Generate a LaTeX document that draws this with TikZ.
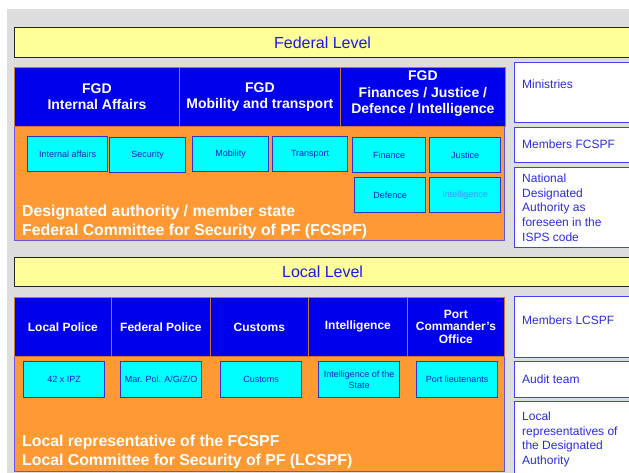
\documentclass[tikz,border=0pt]{standalone}
\usepackage{fontspec}
\setmainfont{Liberation Sans}
\usetikzlibrary{positioning}

\definecolor{bggray}{HTML}{DDDDDD}
\definecolor{lvlyellow}{HTML}{FFFF99}
\definecolor{titleblue}{HTML}{1A1AE6}
\definecolor{fgdblue}{HTML}{0000EE}
\definecolor{fgdedge}{HTML}{CC7733}
\definecolor{areaorange}{HTML}{FF9933}
\definecolor{areaedge}{HTML}{6655DD}
\definecolor{unitcyan}{HTML}{00FFFF}
\definecolor{unitedge}{HTML}{3333CC}
\definecolor{unitfg}{HTML}{1A1ACC}
\definecolor{intellight}{HTML}{3399FF}
\definecolor{noteedge}{HTML}{4040FF}
\definecolor{notefg}{HTML}{2B2BE0}

\begin{document}
\begin{tikzpicture}[x=1pt,y=-1pt,
every node/.style={inner sep=0pt,anchor=north west},
levelbar/.style={draw=black!85,line width=1.2pt,fill=lvlyellow,text=titleblue,
  font=\fontsize{16}{19}\selectfont,minimum width=616pt},
fgd/.style={draw=fgdedge,line width=0.8pt,fill=fgdblue,text=white,
  font=\bfseries\fontsize{14}{16.5}\selectfont,align=center,minimum height=59pt},
agency/.style={fgd,font=\bfseries\fontsize{12}{12.5}\selectfont},
area/.style={draw=areaedge,line width=1pt,fill=areaorange,minimum width=490pt},
areatext/.style={text=white,font=\bfseries\fontsize{15.8}{19}\selectfont,align=left},
unit/.style={draw=unitedge,line width=1.2pt,fill=unitcyan,text=unitfg,
  font=\fontsize{9}{11}\selectfont,align=center,minimum height=35pt},
note/.style={draw=noteedge,line width=1.2pt,fill=white,minimum width=130pt},
notetext/.style={text=notefg,font=\fontsize{12}{14.7}\selectfont,align=left}]

\useasboundingbox (0,0) rectangle (629,472);
\fill[bggray] (7,9) rectangle (640,480);

% federal level
\node[levelbar,minimum height=30pt] (fedlvl) at (14,27) {Federal Level};

\node[area,minimum height=114pt] (fcspf) at (14,126) {};
\node[fgd,minimum width=165pt] (fgdint) at (14,67) {FGD\\Internal Affairs};
\node[fgd,minimum width=161pt] (fgdmob) at (179,67) {FGD\\Mobility and transport};
\node[fgd,minimum width=165pt,text depth=9pt] (fgdfin) at (340,67) {FGD\\Finances / Justice /\\Defence / Intelligence};

\node[unit,minimum width=80pt] (intaff) at (27,136) {Internal affairs};
\node[unit,minimum width=76pt] (secu) at (109,137) {Security};
\node[unit,minimum width=76pt] (mobi) at (192,136) {Mobility};
\node[unit,minimum width=75pt] (transp) at (272,136) {Transport};
\node[unit,minimum width=73pt] (finance) at (352,137) {Finance};
\node[unit,minimum width=71pt] (justice) at (429,137) {Justice};
\node[unit,minimum width=71pt] (defence) at (354,177) {Defence};
\node[unit,minimum width=71pt,text=intellight] (intel) at (429,177) {Intelligence};

\node[areatext,above right=2.5pt and 8pt of fcspf.south west] (fcspftxt)
  {Designated authority / member state\\Federal Committee for Security of PF (FCSPF)};

\node[note,minimum height=60pt] (minis) at (514,62) {};
\node[notetext,below right=17.5pt and 8pt of minis.north west] (ministxt) {Ministries};
\node[note,minimum height=35pt] (memfed) at (514,127) {};
\node[notetext,below right=12.5pt and 8pt of memfed.north west] (memfedtxt) {Members FCSPF};
\node[note,minimum height=80pt] (natauth) at (514,167) {};
\node[notetext,below right=6.5pt and 8pt of natauth.north west] (natauthtxt)
  {National\\Designated\\Authority as\\foreseen in the\\ISPS code};

% local level
\node[levelbar,minimum height=29pt] (loclvl) at (14,257) {Local Level};

\node[area,minimum height=115pt] (lcspf) at (14,356) {};
\node[agency,minimum width=97pt] (locpol) at (14,297) {Local Police};
\node[agency,minimum width=99pt] (fedpol) at (111,297) {Federal Police};
\node[agency,minimum width=98pt] (customs) at (210,297) {Customs};
\node[agency,minimum width=99pt] (intelag) at (308,297) {Intelligence};
\node[agency,minimum width=97pt] (portcmd) at (407,297) {Port\\Commander's\\Office};

\node[unit,minimum width=81pt,minimum height=36pt] (ipz) at (23,361) {42 x IPZ};
\node[unit,minimum width=81pt,minimum height=36pt] (marpol) at (120,361) {Mar. Pol. A/G/Z/O};
\node[unit,minimum width=81pt,minimum height=36pt] (cust) at (220,361) {Customs};
\node[unit,minimum width=81pt,minimum height=36pt] (intstate) at (318,361) {Intelligence of the\\State};
\node[unit,minimum width=81pt,minimum height=36pt] (portlt) at (416,361) {Port lieutenants};

\node[areatext,above right=3pt and 8pt of lcspf.south west] (lcspftxt)
  {Local representative of the FCSPF\\Local Committee for Security of PF (LCSPF)};

\node[note,minimum height=61pt] (memloc) at (514,296) {};
\node[notetext,below right=19.5pt and 8pt of memloc.north west] (memloctxt) {Members LCSPF};
\node[note,minimum height=36pt] (audit) at (514,361) {};
\node[notetext,below right=13.5pt and 8pt of audit.north west] (audittxt) {Audit team};
\node[note,minimum height=80pt] (locrep) at (514,401) {};
\node[notetext,below right=10.5pt and 8pt of locrep.north west] (locreptxt)
  {Local\\representatives of\\the Designated\\Authority};
\end{tikzpicture}
\end{document}
